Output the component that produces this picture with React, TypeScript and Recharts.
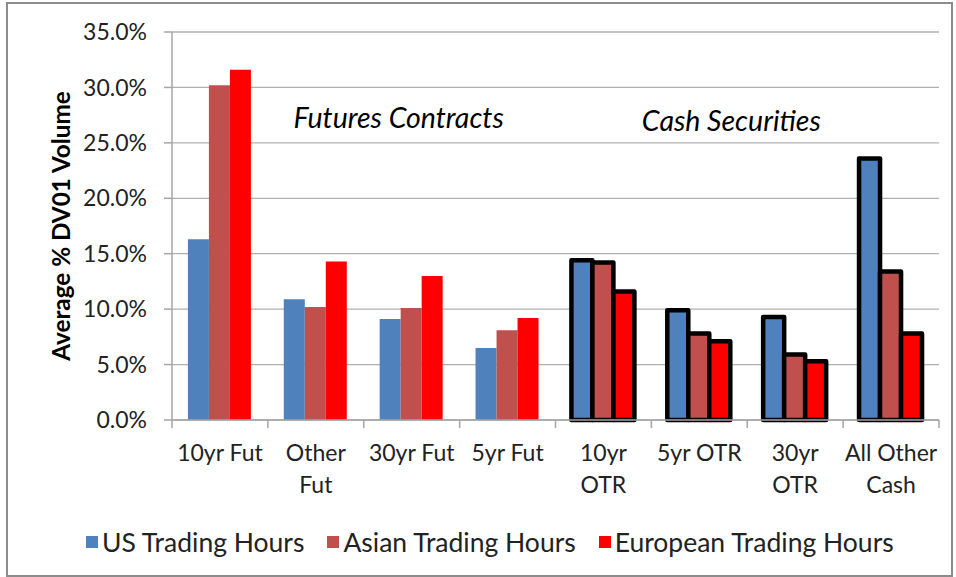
import React from 'react';
import { BarChart, Bar, XAxis, YAxis, CartesianGrid, Legend, Cell, ReferenceDot } from 'recharts';

const categories = ['10yr Fut', 'Other Fut', '30yr Fut', '5yr Fut', '10yr OTR', '5yr OTR', '30yr OTR', 'All Other Cash'];
const categoryLines = [['10yr Fut'], ['Other', 'Fut'], ['30yr Fut'], ['5yr Fut'], ['10yr', 'OTR'], ['5yr OTR'], ['30yr', 'OTR'], ['All Other', 'Cash']];
const cashCategories = ['10yr OTR', '5yr OTR', '30yr OTR', 'All Other Cash'];

const usHours = [16.3, 10.9, 9.1, 6.5, 14.4, 9.9, 9.3, 23.6];
const asianHours = [30.2, 10.2, 10.1, 8.1, 14.2, 7.8, 5.9, 13.4];
const europeanHours = [31.6, 14.3, 13.0, 9.2, 11.6, 7.1, 5.3, 7.8];

const seriesNames = ['US Trading Hours', 'Asian Trading Hours', 'European Trading Hours'];
const seriesKeys = ['us', 'asian', 'european'];
const seriesColors = ['#4F81BD', '#C0504D', '#FF0000'];

const yTicks = [0, 5, 10, 15, 20, 25, 30, 35];
const yLabel = 'Average % DV01 Volume';
const futuresNote = 'Futures Contracts';
const cashNote = 'Cash Securities';

const data = categories.map((c, i) => ({
  name: c,
  us: usHours[i],
  asian: asianHours[i],
  european: europeanHours[i],
}));

const FONT = 'Lato, "Open Sans", sans-serif';
const AXIS_GRAY = '#a6a6a6';

function CategoryTick(props: any) {
  const { x, y, payload, index } = props;
  const half = payload.offset || 0;
  const idx = categories.indexOf(payload.value);
  const lines = categoryLines[idx] || [payload.value];
  return (
    <g>
      <line x1={x - half} x2={x - half} y1={y} y2={y + 8} stroke={AXIS_GRAY} strokeWidth={1.5} />
      {index === categories.length - 1 && (
        <line x1={x + half} x2={x + half} y1={y} y2={y + 8} stroke={AXIS_GRAY} strokeWidth={1.5} />
      )}
      <text x={x} y={y + 41} textAnchor="middle" fontFamily={FONT} fontSize={23} fill="#222">
        {lines.map((l: string, i: number) => (
          <tspan key={i} x={x} dy={i === 0 ? 0 : 31.7}>{l}</tspan>
        ))}
      </text>
    </g>
  );
}

function YAxisTitle(props: any) {
  const vb = props.viewBox || { x: 0, y: 0, width: 0, height: 0 };
  const cx = 60;
  const cy = vb.y + vb.height / 2;
  return (
    <text x={cx} y={cy} transform={`rotate(-90, ${cx}, ${cy})`} textAnchor="middle" dominantBaseline="central"
      fontFamily={FONT} fontWeight={700} fontSize={24.3} fill="#000">{yLabel}</text>
  );
}

function noteLabel(text: string, dx: number) {
  return (props: any) => {
    const vb = props.viewBox || { x: 0, y: 0 };
    return (
      <text x={vb.x + dx} y={vb.y} textAnchor="middle" dominantBaseline="central" fontFamily={FONT}
        fontStyle="italic" fontSize={28.5} fill="#000">{text}</text>
    );
  };
}

function LegendContent() {
  return (
    <div style={{ display: 'flex', alignItems: 'center', fontFamily: FONT, fontSize: 26.5, color: '#222', whiteSpace: 'nowrap' }}>
      {seriesNames.map((n, i) => (
        <div key={n} style={{ display: 'flex', alignItems: 'center', marginRight: 23 }}>
          <span style={{ display: 'inline-block', width: 12, height: 12, background: seriesColors[i], marginRight: 4 }} />
          <span>{n}</span>
        </div>
      ))}
    </div>
  );
}

export default function App() {
  return (
    <div style={{ position: 'absolute', left: 0, top: 0, width: 956, height: 577, background: '#fff' }}>
      <div style={{ position: 'absolute', left: 6, top: 2, width: 943, height: 571, border: '2px solid #8c8c8c' }} />
      <div style={{ position: 'absolute', left: 0, top: 0 }}>
        <BarChart width={956} height={577} data={data}
          margin={{ top: 32, right: 17, left: 0, bottom: 0 }}
          barCategoryGap="16.6%" barGap={0}>
          <CartesianGrid vertical={false} stroke="#b0b0b0" strokeWidth={1.3} />
          <XAxis dataKey="name" type="category" height={157} axisLine={{ stroke: AXIS_GRAY, strokeWidth: 1.5 }}
            tickLine={false} tickSize={0} tickMargin={0} interval={0} tick={<CategoryTick />} />
          <YAxis type="number" domain={[0, 35]} ticks={yTicks} width={172} interval={0}
            tickFormatter={(v: number) => v.toFixed(1) + '%'}
            axisLine={{ stroke: AXIS_GRAY, strokeWidth: 1.5 }} tickLine={{ stroke: AXIS_GRAY, strokeWidth: 1.5 }}
            tickSize={8} tickMargin={17}
            tick={{ fontFamily: FONT, fontSize: 23, fill: '#222' }}
            label={<YAxisTitle />} />
          {seriesKeys.map((k, si) => (
            <Bar key={k} dataKey={k} name={seriesNames[si]} fill={seriesColors[si]} isAnimationActive={false}>
              {data.map((d, i) => {
                const cash = cashCategories.includes(d.name);
                return (
                  <Cell key={i} fill={seriesColors[si]} stroke={cash ? '#000' : 'none'}
                    strokeWidth={cash ? 4.5 : 0} strokeLinejoin="round" />
                );
              })}
            </Bar>
          ))}
          <ReferenceDot x="30yr Fut" y={27.3} r={0} fill="none" stroke="none" label={noteLabel(futuresNote, -13)} />
          <ReferenceDot x="5yr OTR" y={27.05} r={0} fill="none" stroke="none" label={noteLabel(cashNote, 32)} />
          <Legend verticalAlign="middle" align="center" layout="horizontal"
            wrapperStyle={{ top: 526, left: 86, width: 860 }} content={<LegendContent />} />
        </BarChart>
      </div>
    </div>
  );
}
